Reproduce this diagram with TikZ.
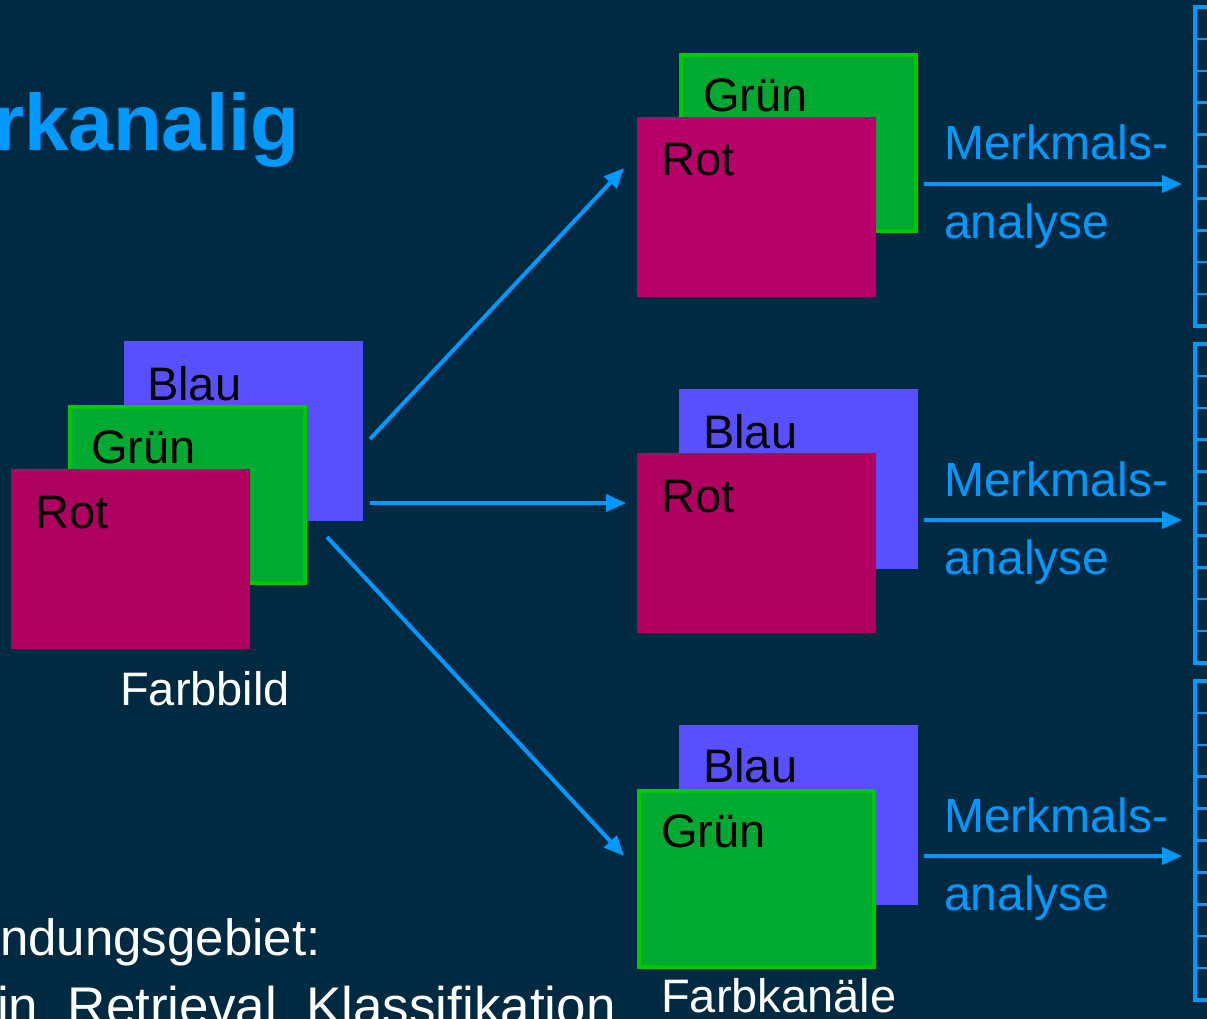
\documentclass[tikz,border=0pt]{standalone}
\usepackage{fontspec}
\setmainfont{Liberation Sans}
\usetikzlibrary{arrows.meta,calc}
\definecolor{bgc}{RGB}{0,41,66}
\definecolor{lblue}{RGB}{0,153,255}
\definecolor{bluebox}{RGB}{88,80,255}
\definecolor{greenfill}{RGB}{0,170,48}
\definecolor{greenborder}{RGB}{0,200,0}
\definecolor{redfill}{RGB}{176,0,96}
\definecolor{redtop}{RGB}{184,0,106}
\tikzset{
  chan/.style={rectangle, anchor=north west, inner sep=0pt, outer sep=0pt,
    minimum width=239pt, minimum height=180pt},
  bluech/.style={chan, fill=bluebox},
  greench/.style={chan, fill=greenfill, draw=greenborder, line width=4pt,
    minimum width=235pt, minimum height=176pt},
  redch/.style={chan, fill=redfill},
  lbl/.style={anchor=base west, inner sep=0pt, text=black,
    font=\fontsize{47}{56}\selectfont},
  wlbl/.style={anchor=base west, inner sep=0pt, text=white,
    font=\fontsize{47}{56}\selectfont},
  blbl/.style={anchor=base west, inner sep=0pt, text=lblue,
    font=\fontsize{48}{56}\selectfont},
  conn/.style={draw=lblue, line width=4pt, -{Triangle[length=20pt,width=17pt]}},
  vcol/.style={draw=lblue, line width=4pt},
  vcell/.style={draw=lblue, line width=2.5pt}
}
\begin{document}
\begin{tikzpicture}[x=1pt,y=-1pt]
\useasboundingbox (0,0) rectangle (1207,1019);
\clip (0,0) rectangle (1207,1019);
\fill[bgc] (0,0) rectangle (1207,1019);

% title and text
\node[anchor=base east, inner sep=0pt, text=lblue, font=\fontsize{80}{94}\selectfont\bfseries] (title) at (300,151) {rkanalig};
\node[anchor=base west, inner sep=0pt, text=white, font=\fontsize{51}{60}\selectfont] (anw) at (0,955) {ndungsgebiet:};
\node[anchor=base west, inner sep=0pt, text=white, font=\fontsize{53}{62}\selectfont] (ret) at (-3,1024) {in\phantom{,} Retrieval\phantom{,} Klassifikation};

% left colour image
\node[bluech] (lb) at (124,341) {};
\node[lbl] (lbt) at ($(lb.north west)+(23,59)$) {Blau};
\node[greench] (lg) at (70,407) {};
\node[lbl] (lgt) at ($(lg.north west)+(21,56)$) {Grün};
\node[redch] (lr) at (11,469) {};
\node[lbl] (lrt) at ($(lr.north west)+(24,59)$) {Rot};
\node[wlbl] (fb) at (120,705) {Farbbild};

% top group: Grün + Rot
\node[greench] (tg) at (681,55) {};
\node[lbl] (tgt) at ($(tg.north west)+(22,57)$) {Grün};
\node[chan, fill=redtop] (tr) at (637,117) {};
\node[lbl] (trt) at ($(tr.north west)+(24,59)$) {Rot};

% middle group: Blau + Rot
\node[bluech] (mb) at (679,389) {};
\node[lbl] (mbt) at ($(mb.north west)+(24,59)$) {Blau};
\node[redch] (mr) at (637,453) {};
\node[lbl] (mrt) at ($(mr.north west)+(24,59)$) {Rot};

% bottom group: Blau + Grün
\node[bluech] (bb) at (679,725) {};
\node[lbl] (bbt) at ($(bb.north west)+(24,57)$) {Blau};
\node[greench] (bg) at (639,791) {};
\node[lbl] (bgt) at ($(bg.north west)+(22,56)$) {Grün};
\node[wlbl] (fk) at (661,1012) {Farbkanäle};

% arrows from the colour image
\coordinate (s1) at (370,439);
\coordinate (e1) at (624,168);
\coordinate (s2) at (370,503);
\coordinate (e2) at (626,503);
\coordinate (s3) at (327,537);
\coordinate (e3) at (624,856);
\draw[conn] (s1) -- (e1);
\draw[conn] (s2) -- (e2);
\draw[conn] (s3) -- (e3);

% feature vectors
\foreach \i/\t in {1/7,2/344,3/681}{
  \coordinate (v\i) at (1195,\t);
  \foreach \k in {1,...,9}{
    \draw[vcell] (1195,\t+\k*31.9) -- (1230,\t+\k*31.9);
  }
  \draw[vcol] (v\i) rectangle (1240,\t+319);
}

% Merkmalsanalyse arrows
\foreach \i/\y in {1/184,2/520,3/856}{
  \coordinate (ma\i) at (924,\y);
  \coordinate (mb\i) at (1182,\y);
  \draw[conn] (ma\i) -- (mb\i);
  \node[blbl] (mk\i) at (944,\y-24) {Merkmals-};
  \node[blbl] (an\i) at (944,\y+54) {analyse};
}
\end{tikzpicture}
\end{document}
